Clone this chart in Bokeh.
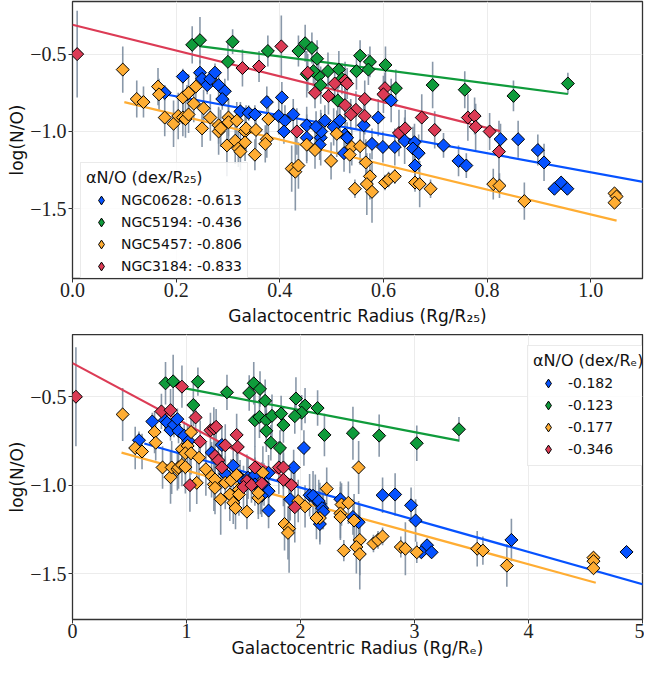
import numpy as np
from bokeh.plotting import figure
from bokeh.models import Legend, LegendItem, FixedTicker, Range1d, CustomJSTickFormatter
from bokeh.layouts import column
from bokeh.embed import file_html
from bokeh.resources import INLINE

galaxies = ["NGC0628", "NGC5194", "NGC5457", "NGC3184"]
colors = ["#0652ff", "#0f9b3b", "#ffad33", "#dc3b55"]

# ---------------- top panel: radius in R25 ----------------
slopes_r25 = [-0.613, -0.436, -0.806, -0.833]
icpt_r25 = [-0.65, -0.341, -0.73, -0.31]
line_x_r25 = [[0.178, 1.45], [0.245, 0.956], [0.10, 1.05], [0.0, 0.825]]

x628_r25 = [0.178, 0.213, 0.221, 0.246, 0.25, 0.26, 0.266, 0.275, 0.282, 0.294, 0.289, 0.324, 0.34, 0.352,
            0.375, 0.404, 0.398, 0.41, 0.426, 0.408, 0.452, 0.452, 0.479, 0.48, 0.47, 0.487, 0.504, 0.516,
            0.526, 0.53, 0.524, 0.477, 0.562, 0.59, 0.615, 0.578, 0.599, 0.622, 0.641, 0.66, 0.657, 0.668,
            0.661, 0.716, 0.745, 0.76, 0.826, 0.86, 0.898, 0.91, 0.93, 0.943, 0.955]
y628_r25 = [-0.75, -0.645, -0.76, -0.62, -0.66, -0.70, -0.66, -0.62, -0.70, -0.74, -0.79, -0.87, -0.88, -0.89,
            -0.81, -0.78, -0.90, -0.93, -0.89, -1.0, -0.96, -1.04, -1.04, -1.0, -0.97, -0.93, -0.97, -0.93,
            -1.02, -1.04, -1.14, -1.085, -0.96, -0.91, -0.80, -1.08, -1.10, -1.10, -1.06, -1.07, -1.11, -1.14,
            -1.22, -1.09, -1.19, -1.22, -1.05, -1.05, -1.12, -1.20, -1.37, -1.33, -1.37]
e628_r25 = [0.05, 0.05, 0.06, 0.08, 0.05, 0.06, 0.05, 0.06, 0.07, 0.08, 0.07, 0.06, 0.05, 0.06,
            0.10, 0.10, 0.12, 0.10, 0.10, 0.08, 0.12, 0.15, 0.18, 0.12, 0.10, 0.10, 0.12, 0.12,
            0.15, 0.10, 0.12, 0.10, 0.14, 0.12, 0.14, 0.10, 0.10, 0.12, 0.15, 0.12, 0.14, 0.12,
            0.10, 0.08, 0.10, 0.08, 0.10, 0.12, 0.10, 0.12, 0.03, 0.03, 0.03]

x5194_r25 = [0.231, 0.246, 0.309, 0.30, 0.377, 0.449, 0.436, 0.462, 0.472, 0.452, 0.475, 0.465, 0.493, 0.514,
             0.479, 0.52, 0.512, 0.555, 0.574, 0.548, 0.571, 0.604, 0.624, 0.695, 0.757, 0.851, 0.956]
y5194_r25 = [-0.44, -0.41, -0.42, -0.55, -0.48, -0.43, -0.48, -0.46, -0.53, -0.63, -0.64, -0.61, -0.61, -0.60,
             -0.70, -0.66, -0.80, -0.51, -0.55, -0.61, -0.60, -0.57, -0.72, -0.70, -0.73, -0.77, -0.69]
e5194_r25 = [0.12, 0.15, 0.08, 0.12, 0.10, 0.12, 0.10, 0.10, 0.12, 0.15, 0.12, 0.10, 0.12, 0.12,
             0.12, 0.10, 0.10, 0.10, 0.10, 0.12, 0.10, 0.12, 0.12, 0.15, 0.12, 0.10, 0.07]

x5457_r25 = [0.097, 0.124, 0.137, 0.165, 0.167, 0.178, 0.195, 0.204, 0.213, 0.218, 0.224, 0.213, 0.224, 0.238,
             0.234, 0.253, 0.25, 0.266, 0.282, 0.282, 0.286, 0.301, 0.301, 0.317, 0.298, 0.314, 0.32, 0.324,
             0.333, 0.333, 0.335, 0.354, 0.352, 0.375, 0.378, 0.372, 0.423, 0.43, 0.436, 0.452, 0.468, 0.499,
             0.51, 0.539, 0.535, 0.555, 0.566, 0.574, 0.568, 0.578, 0.545, 0.603, 0.61, 0.622, 0.661, 0.67,
             0.691, 0.812, 0.824, 0.872, 1.046, 1.05, 1.046]
y5457_r25 = [-0.60, -0.79, -0.81, -0.71, -0.76, -0.91, -0.95, -0.90, -0.91, -0.92, -0.89, -0.78, -0.75, -0.71,
             -0.82, -0.85, -0.98, -0.91, -0.96, -1.0, -0.98, -0.91, -0.94, -0.93, -1.09, -1.06, -1.11, -1.13,
             -1.0, -1.07, -0.98, -0.99, -1.15, -1.05, -0.92, -1.08, -1.24, -1.26, -1.22, -1.085, -1.12, -1.19,
             -1.015, -1.10, -1.15, -1.095, -1.20, -1.29, -1.34, -1.39, -1.37, -1.33, -1.31, -1.29, -1.33, -1.34,
             -1.37, -1.34, -1.35, -1.45, -1.40, -1.42, -1.46]
e5457_r25 = [0.15, 0.12, 0.10, 0.12, 0.10, 0.12, 0.15, 0.15, 0.12, 0.12, 0.12, 0.12, 0.12, 0.10,
             0.12, 0.12, 0.12, 0.15, 0.12, 0.15, 0.12, 0.12, 0.15, 0.12, 0.20, 0.15, 0.12, 0.12,
             0.12, 0.12, 0.15, 0.12, 0.10, 0.12, 0.15, 0.12, 0.15, 0.25, 0.15, 0.12, 0.12, 0.12,
             0.15, 0.12, 0.12, 0.12, 0.15, 0.15, 0.20, 0.20, 0.06, 0.05, 0.05, 0.05, 0.06, 0.15,
             0.06, 0.10, 0.08, 0.12, 0.03, 0.03, 0.03]

x3184_r25 = [0.009, 0.328, 0.36, 0.403, 0.433, 0.454, 0.468, 0.494, 0.506, 0.526, 0.53, 0.526, 0.547, 0.537,
             0.564, 0.564, 0.603, 0.60, 0.63, 0.642, 0.674, 0.699, 0.763, 0.776, 0.778, 0.805, 0.823]
y3184_r25 = [-0.50, -0.59, -0.58, -0.45, -1.0, -0.62, -0.75, -0.77, -0.69, -0.67, -0.69, -0.83, -0.86, -0.89,
             -0.79, -0.90, -0.72, -0.76, -1.01, -0.98, -0.91, -0.99, -0.91, -0.90, -0.97, -1.0, -1.13]
e3184_r25 = [0.28, 0.12, 0.10, 0.20, 0.15, 0.12, 0.10, 0.12, 0.10, 0.12, 0.10, 0.12, 0.12, 0.10,
             0.12, 0.12, 0.10, 0.12, 0.15, 0.12, 0.15, 0.12, 0.15, 0.12, 0.15, 0.12, 0.20]

# ---------------- bottom panel: radius in Re ----------------
slopes_re = [-0.182, -0.123, -0.177, -0.346]
icpt_re = [-0.65, -0.331, -0.74, -0.31]
line_x_re = [[0.63, 5.1], [0.99, 3.39], [0.43, 4.59], [0.0, 1.97]]

x628_re = [0.583, 0.70, 0.81, 0.83, 0.86, 0.89, 0.92, 0.93, 0.98, 1.02, 1.22, 1.31, 1.34, 1.41, 1.47, 1.54,
           1.60, 1.60, 1.65, 1.68, 1.72, 1.72, 1.66, 1.72, 1.94, 2.03, 1.91, 2.08, 2.13, 2.17, 2.17, 2.11,
           2.16, 2.19, 2.20, 2.35, 2.51, 2.46, 2.72, 2.83, 2.97, 3.01, 3.11, 3.06, 3.15, 3.85, 4.86]
y628_re = [-0.746, -0.64, -0.633, -0.646, -0.689, -0.659, -0.627, -0.693, -0.72, -0.75, -0.816, -0.773,
           -0.936, -0.89, -0.958, -0.958, -0.943, -0.996, -1.025, -0.996, -1.034, -1.144, -1.06, -0.93, -0.90,
           -0.79, -1.08, -1.057, -1.08, -1.106, -1.22, -1.06, -1.09, -1.13, -1.15, -1.08, -1.21, -1.18, -1.057,
           -1.053, -1.114, -1.20, -1.34, -1.38, -1.38, -1.31, -1.378]
e628_re = [0.05, 0.05, 0.06, 0.05, 0.06, 0.07, 0.06, 0.07, 0.08, 0.06, 0.06, 0.10, 0.08, 0.10, 0.10, 0.12,
           0.10, 0.12, 0.14, 0.12, 0.12, 0.10, 0.12, 0.10, 0.10, 0.10, 0.12, 0.12, 0.14, 0.12, 0.10, 0.14,
           0.12, 0.12, 0.10, 0.10, 0.12, 0.10, 0.10, 0.12, 0.10, 0.12, 0.03, 0.03, 0.03, 0.12, 0.03]

x5194_re = [0.816, 0.883, 1.10, 1.06, 1.355, 1.59, 1.55, 1.645, 1.69, 1.60, 1.64, 1.70, 1.75, 1.70, 1.74,
            1.82, 1.83, 1.85, 1.96, 2.04, 2.01, 1.95, 2.15, 2.21, 2.46, 2.69, 3.02, 3.39]
y5194_re = [-0.424, -0.413, -0.415, -0.547, -0.475, -0.424, -0.479, -0.456, -0.523, -0.633, -0.614, -0.633,
            -0.608, -0.693, -0.76, -0.79, -0.595, -0.66, -0.51, -0.55, -0.59, -0.61, -0.564, -0.716, -0.706,
            -0.72, -0.763, -0.684]
e5194_re = [0.12, 0.15, 0.08, 0.12, 0.10, 0.12, 0.10, 0.10, 0.12, 0.15, 0.12, 0.10, 0.12, 0.12, 0.10,
            0.10, 0.10, 0.10, 0.12, 0.10, 0.10, 0.10, 0.10, 0.12, 0.15, 0.12, 0.10, 0.07]

x5457_re = [0.44, 0.55, 0.61, 0.72, 0.73, 0.79, 0.86, 0.87, 0.92, 0.93, 0.96, 0.99, 0.96, 1.01, 1.04, 0.99,
            1.04, 1.11, 1.09, 1.17, 1.22, 1.24, 1.25, 1.25, 1.30, 1.38, 1.41, 1.34, 1.39, 1.44, 1.46, 1.46,
            1.53, 1.43, 1.63, 1.67, 1.63, 1.86, 1.90, 1.89, 1.98, 2.04, 2.17, 2.14, 2.23, 2.36, 2.35, 2.35,
            2.42, 2.47, 2.51, 2.52, 2.49, 2.52, 2.38, 2.64, 2.68, 2.72, 2.88, 2.92, 3.02, 3.55, 3.60, 3.81,
            4.57, 4.57, 4.57]
y5457_re = [-0.60, -0.79, -0.81, -0.70, -0.76, -0.90, -0.955, -0.90, -0.91, -0.90, -0.886, -0.898, -0.797,
            -0.778, -0.70, -0.82, -0.82, -0.845, -0.987, -0.91, -0.95, -0.996, -0.968, -1.015, -1.08, -1.053,
            -1.10, -0.987, -0.973, -0.943, -1.025, -1.053, -1.15, -1.13, -1.072, -0.93, -1.044, -1.22, -1.246,
            -1.27, -1.09, -1.12, -1.186, -1.186, -1.02, -1.11, -1.16, -1.18, -1.10, -1.20, -0.90, -1.31, -1.35,
            -1.39, -1.37, -1.33, -1.31, -1.29, -1.35, -1.36, -1.38, -1.36, -1.37, -1.455, -1.41, -1.43, -1.47]
e5457_re = [0.15, 0.12, 0.10, 0.12, 0.10, 0.12, 0.15, 0.15, 0.12, 0.12, 0.12, 0.15, 0.12, 0.12, 0.10, 0.12,
            0.12, 0.12, 0.12, 0.15, 0.12, 0.15, 0.12, 0.15, 0.20, 0.15, 0.12, 0.15, 0.12, 0.12, 0.12, 0.12,
            0.10, 0.12, 0.12, 0.15, 0.12, 0.15, 0.25, 0.15, 0.12, 0.12, 0.15, 0.12, 0.12, 0.12, 0.15, 0.12,
            0.12, 0.15, 0.15, 0.20, 0.15, 0.20, 0.06, 0.05, 0.05, 0.05, 0.06, 0.15, 0.06, 0.10, 0.08, 0.12,
            0.03, 0.03, 0.03]

x3184_re = [0.03, 0.96, 0.78, 0.86, 1.08, 1.03, 1.12, 1.21, 1.24, 1.26, 1.34, 1.44, 1.45, 1.25, 1.28, 1.31,
            1.53, 1.50, 1.57, 1.66, 1.60, 1.81, 1.85, 1.85, 1.92, 1.95]
y3184_re = [-0.50, -0.443, -0.583, -0.576, -0.617, -1.0, -0.754, -0.69, -0.68, -0.67, -0.775, -0.716, -0.784,
            -0.835, -0.86, -0.90, -0.977, -1.01, -1.0, -0.99, -0.90, -0.90, -0.90, -0.97, -1.0, -1.125]
e3184_re = [0.28, 0.12, 0.10, 0.12, 0.10, 0.15, 0.12, 0.10, 0.12, 0.10, 0.12, 0.12, 0.10, 0.12, 0.10, 0.12,
            0.15, 0.12, 0.10, 0.12, 0.12, 0.15, 0.12, 0.15, 0.12, 0.20]

top_sets = [(x628_r25, y628_r25, e628_r25), (x5194_r25, y5194_r25, e5194_r25),
            (x5457_r25, y5457_r25, e5457_r25), (x3184_r25, y3184_r25, e3184_r25)]
bot_sets = [(x628_re, y628_re, e628_re), (x5194_re, y5194_re, e5194_re),
            (x5457_re, y5457_re, e5457_re), (x3184_re, y3184_re, e3184_re)]

top_labels = [f"{g}: {s:.3f}" for g, s in zip(galaxies, slopes_r25)]
bot_labels = [f"{s:.3f}" for s in slopes_re]

TICK_FONT = "Liberation Serif"
SANS = "DejaVu Sans"


def make_panel(sets, slopes, icpts, line_xs, labels, xr, yr, xticks, xdec, xlabel, ltitle,
               height, border_top, border_bottom, legend_loc, xlab_standoff):
    p = figure(width=644, height=height, output_backend="svg", toolbar_location=None,
               x_range=Range1d(*xr), y_range=Range1d(*yr),
               min_border_left=72, min_border_right=2, min_border_top=border_top,
               min_border_bottom=border_bottom)
    p.outline_line_color = "#333333"
    p.outline_line_width = 1.3
    for ax in (p.xaxis[0], p.yaxis[0]):
        ax.axis_line_color = None
        ax.major_tick_in = 0
        ax.major_tick_out = 4
        ax.major_tick_line_color = "#333333"
        ax.minor_tick_line_color = None
        ax.major_label_text_font = TICK_FONT
        ax.major_label_text_font_size = "20px"
        ax.major_label_text_line_height = 1.0
        ax.major_label_text_color = "#222222"
        ax.axis_label_text_font = SANS
        ax.axis_label_text_font_size = "17px"
        ax.axis_label_text_line_height = 1.0
        ax.axis_label_text_font_style = "normal"
        ax.axis_label_text_color = "#111111"
    p.yaxis.major_label_standoff = 2
    p.yaxis.axis_label_standoff = 0
    p.xaxis.major_label_standoff = 0
    p.xaxis.axis_label_standoff = xlab_standoff
    p.xaxis.ticker = FixedTicker(ticks=xticks)
    p.yaxis.ticker = FixedTicker(ticks=[-0.5, -1.0, -1.5])
    p.xaxis.formatter = CustomJSTickFormatter(
        code=f"return (tick < 0 ? '\u2212' : '') + Math.abs(tick).toFixed({xdec});")
    p.yaxis.formatter = CustomJSTickFormatter(
        code="return (tick < 0 ? '\u2212' : '') + Math.abs(tick).toFixed(1);")
    p.xaxis.axis_label = xlabel
    p.yaxis.axis_label = "log(N/O)"
    p.xgrid.grid_line_color = "#ececec"
    p.ygrid.grid_line_color = "#ececec"
    p.xgrid.ticker = FixedTicker(ticks=xticks)
    p.ygrid.ticker = FixedTicker(ticks=[-0.5, -1.0, -1.5])

    # error bars
    for (xs, ys, es) in sets:
        xs = np.array(xs); ys = np.array(ys); es = np.array(es)
        p.segment(x0=xs, y0=ys - es, x1=xs, y1=ys + es, line_color="#74869a",
                  line_alpha=0.85, line_width=1.6)
    # fit lines
    for c, s, b, lx in zip(colors, slopes, icpts, line_xs):
        lx = np.array(lx)
        p.line(lx, b + s * lx, line_color=c, line_width=2.2)
    # markers
    items = []
    for (xs, ys, es), c, lab in zip(sets, colors, labels):
        p.scatter(xs, ys, marker="square", angle=np.pi / 4, size=9.2, fill_color=c,
                  line_color="black", line_width=1)
        proxy = p.scatter(xs[:1], ys[:1], marker="diamond", fill_color=c,
                          line_color="black", line_width=1, visible=False)
        items.append(LegendItem(label=lab, renderers=[proxy]))
    leg = Legend(items=items, title=ltitle, location=legend_loc)
    leg.title_text_font = SANS
    leg.title_text_font_size = "16px"
    leg.title_text_font_style = "normal"
    leg.title_text_color = "#111111"
    leg.title_standoff = 2
    leg.label_text_font = SANS
    leg.label_text_font_size = "14px"
    leg.label_text_color = "#111111"
    leg.glyph_width = 30
    leg.glyph_height = 22
    leg.label_height = 22
    leg.spacing = 0
    leg.padding = 5
    leg.margin = 0
    leg.label_standoff = 5
    leg.border_line_color = "#d5d5d5"
    leg.border_line_width = 1
    leg.background_fill_alpha = 0.85
    p.add_layout(leg)
    return p


p1 = make_panel(top_sets, slopes_r25, icpt_r25, line_x_r25, top_labels,
                (0.0, 1.1), (-1.95, -0.16), [0.0, 0.2, 0.4, 0.6, 0.8, 1.0], 1,
                "Galactocentric Radius (Rg/R\u2082\u2085)", "\u03b1N/O (dex/R\u2082\u2085)",
                334, 1, 56, (8, -5), 6)
p2 = make_panel(bot_sets, slopes_re, icpt_re, line_x_re, bot_labels,
                (0.0, 5.0), (-1.76, -0.148), [0, 1, 2, 3, 4, 5], 0,
                "Galactocentric Radius (Rg/R\u2091)", "\u03b1N/O (dex/R\u2091)",
                326, 0, 40, (455, 153), -3)

layout = column(p1, p2, spacing=0)
open("out.html", "w").write(file_html(layout, INLINE))
